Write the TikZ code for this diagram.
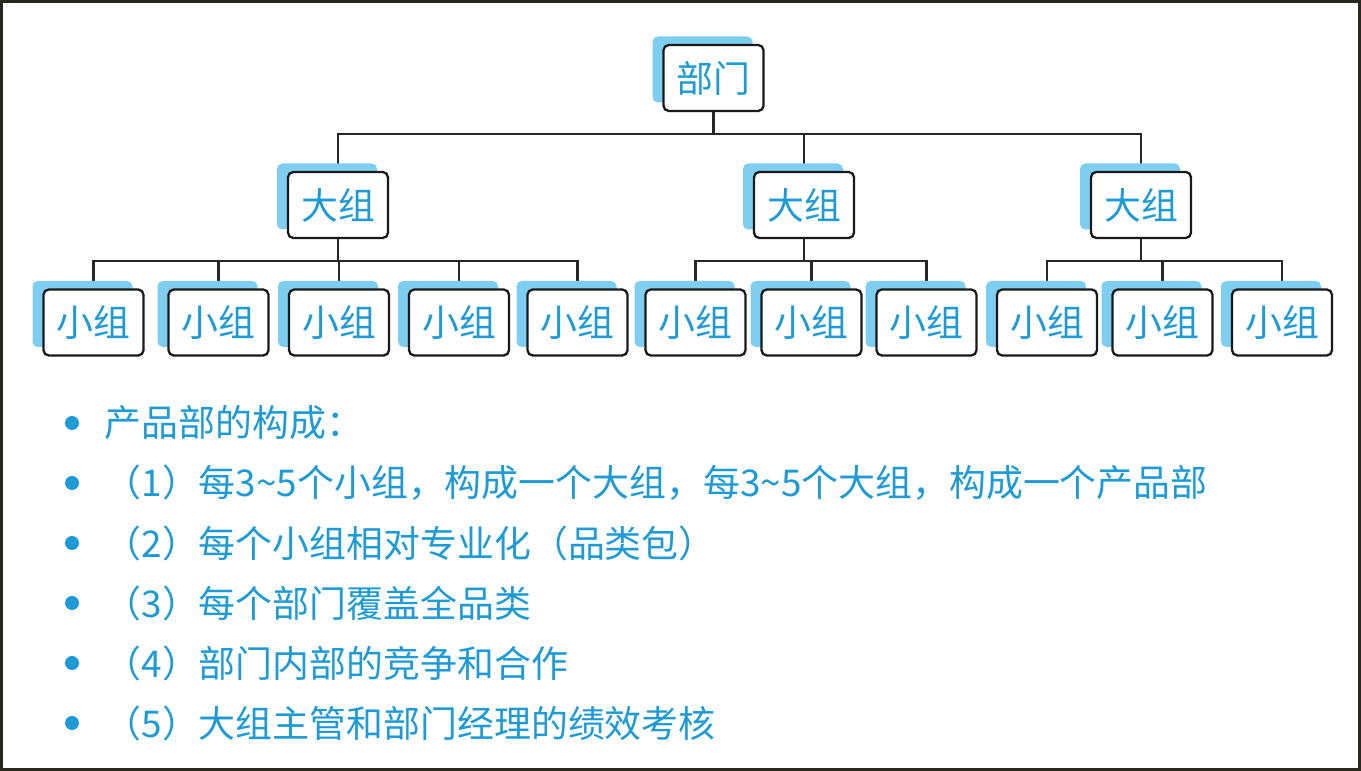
\documentclass[tikz,border=0pt]{standalone}
\usepackage{fontspec}
\newfontfamily\cjk{Noto Sans CJK SC}
\usepackage{xcolor}
\usepackage{tikz}
\usetikzlibrary{positioning, shadows, backgrounds}

\definecolor{inkblue}{RGB}{30,155,215}
\definecolor{shadeblue}{RGB}{125,206,240}
\definecolor{framegray}{RGB}{40,40,30}

\begin{document}
\begin{tikzpicture}[font=\cjk\fontsize{21}{25}\selectfont,
  unit/.style={draw=black!90, line width=1.3pt, fill=white, rounded corners=3pt,
               minimum width=2cm, minimum height=1.32cm, inner sep=0pt, text=inkblue,
               general shadow={fill=shadeblue, shadow xshift=-0.22cm, shadow yshift=0.17cm}},
  link/.style={draw=black!85, line width=1.2pt},
  dot/.style={circle, fill=inkblue, minimum size=0.28cm, inner sep=0pt},
  item/.style={anchor=west, text=inkblue, inner sep=0pt}]
  \useasboundingbox (0,0) rectangle (27.22,15.42);
  \draw[framegray, line width=1.7pt] (0.03,0.03) rectangle (27.19,15.39);

  % tree
  \node[unit] (dept) at (14.27,13.86) {部门};
  \node[unit] (g1) at (6.76,11.32) {大组};
  \node[unit] (g2) at (16.08,11.32) {大组};
  \node[unit] (g3) at (22.82,11.32) {大组};
  \foreach \x [count=\i] in {1.87,4.37,6.78,9.18,11.55,13.91,16.23,18.53,20.94,23.25,25.64}
    \node[unit] (s\i) at (\x,8.97) {小组};

  \begin{scope}[on background layer]
    \foreach \g in {g1,g2,g3}
      \draw[link] (dept.south) -- ++(0,-0.44) -| (\g.north);
    \foreach \s in {1,...,5}
      \draw[link] (g1.south) -- ++(0,-0.44) -| (s\s.north);
    \foreach \s in {6,7,8}
      \draw[link] (g2.south) -- ++(0,-0.44) -| (s\s.north);
    \foreach \s in {9,10,11}
      \draw[link] (g3.south) -- ++(0,-0.44) -| (s\s.north);
  \end{scope}

  % notes
  \foreach \t [count=\i] in {产品部的构成：,
      （1）每3\textasciitilde5个小组，构成一个大组，每3\textasciitilde5个大组，构成一个产品部,
      （2）每个小组相对专业化（品类包）,
      （3）每个部门覆盖全品类,
      （4）部门内部的竞争和合作,
      （5）大组主管和部门经理的绩效考核} {
    \node[dot] (b\i) at (1.44,{8.16-1.2*\i}) {};
    \node[item, right=0.5cm of b\i] (t\i) {\t};
  }
\end{tikzpicture}
\end{document}
